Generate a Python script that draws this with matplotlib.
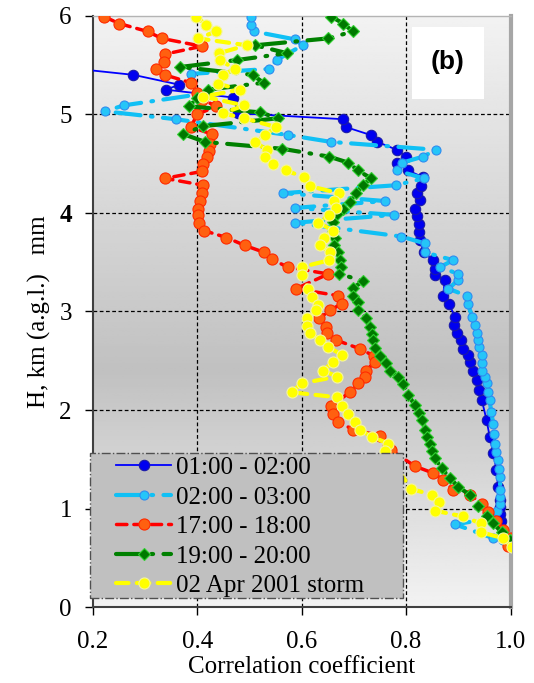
import numpy as np
import matplotlib
matplotlib.use("Agg")
import matplotlib.pyplot as plt
from matplotlib.patches import Rectangle

# 01:00 - 02:00
blue_x = [0.982, 0.980, 0.980, 0.980, 0.976, 0.973, 0.967, 0.960, 0.954, 0.945, 0.940, 0.935, 0.928,
          0.922, 0.919, 0.909, 0.906, 0.897, 0.892, 0.893, 0.883, 0.871, 0.874, 0.855, 0.855, 0.851,
          0.834, 0.826, 0.825, 0.824, 0.821, 0.818, 0.826, 0.820, 0.828, 0.833, 0.804, 0.783, 0.800,
          0.782, 0.745, 0.732, 0.685, 0.680, 0.479, 0.469, 0.340, 0.366, 0.278, 0.100]
blue_y = [0.87, 0.95, 1.02, 1.09, 1.22, 1.39, 1.56, 1.73, 1.90, 2.10, 2.20, 2.30, 2.40,
          2.49, 2.56, 2.62, 2.71, 2.78, 2.86, 2.94, 3.08, 3.16, 3.32, 3.37, 3.43, 3.52,
          3.60, 3.72, 3.81, 3.89, 3.97, 4.04, 4.13, 4.20, 4.27, 4.36, 4.43, 4.51, 4.57,
          4.64, 4.72, 4.79, 4.87, 4.95, 5.01, 5.17, 5.25, 5.30, 5.40, 5.50]

# 02:00 - 03:00
lblue_x = [0.995, 0.985, 0.967, 0.894, 0.960, 0.975, 0.980, 0.980, 0.980, 0.980, 0.978, 0.976,
           0.973, 0.970, 0.968, 0.967, 0.963, 0.960, 0.957, 0.954, 0.951, 0.946, 0.946, 0.945,
           0.940, 0.937, 0.935, 0.932, 0.927, 0.918, 0.916, 0.881, 0.900, 0.900, 0.865, 0.890,
           0.836, 0.836, 0.791, 0.587, 0.777, 0.587, 0.760, 0.565, 0.780, 0.834, 0.782, 0.793,
           0.832, 0.858, 0.656, 0.574, 0.359, 0.224, 0.259, 0.400, 0.388, 0.537, 0.552, 0.602,
           0.587, 0.509, 0.504, 0.504]
lblue_y = [0.62, 0.68, 0.70, 0.84, 0.90, 0.98, 1.05, 1.12, 1.19, 1.32, 1.40, 1.49,
           1.57, 1.66, 1.76, 1.86, 1.98, 2.10, 2.18, 2.27, 2.33, 2.40, 2.48, 2.56,
           2.64, 2.71, 2.78, 2.86, 2.94, 3.08, 3.16, 3.23, 3.32, 3.38, 3.45, 3.52,
           3.60, 3.69, 3.76, 3.90, 3.98, 4.05, 4.12, 4.20, 4.28, 4.35, 4.43, 4.51,
           4.57, 4.64, 4.72, 4.79, 4.95, 5.03, 5.09, 5.20, 5.41, 5.46, 5.55, 5.70,
           5.76, 5.84, 5.91, 5.99]

# 17:00 - 18:00
red_x = [0.222, 0.251, 0.305, 0.332, 0.409, 0.338, 0.336, 0.321, 0.338, 0.388, 0.400, 0.410,
         0.437, 0.400, 0.388, 0.428, 0.425, 0.423, 0.418, 0.412, 0.409, 0.338, 0.412, 0.410,
         0.405, 0.402, 0.402, 0.404, 0.413, 0.456, 0.491, 0.528, 0.543, 0.573, 0.651, 0.589,
         0.670, 0.677, 0.654, 0.634, 0.647, 0.648, 0.666, 0.712, 0.738, 0.740, 0.724, 0.721,
         0.708, 0.692, 0.657, 0.661, 0.670, 0.699, 0.750, 0.766, 0.772, 0.817, 0.852, 0.871,
         0.890, 0.922, 0.945, 0.957, 0.973, 0.986, 1.000, 0.995]
red_y = [5.99, 5.92, 5.84, 5.77, 5.69, 5.61, 5.53, 5.46, 5.40, 5.32, 5.22, 5.15,
         5.08, 5.00, 4.87, 4.80, 4.70, 4.63, 4.57, 4.50, 4.42, 4.35, 4.28, 4.20,
         4.12, 4.04, 3.98, 3.90, 3.82, 3.75, 3.67, 3.60, 3.53, 3.45, 3.38, 3.23,
         3.16, 3.08, 3.01, 2.93, 2.84, 2.78, 2.71, 2.62, 2.55, 2.49, 2.40, 2.34,
         2.27, 2.18, 2.04, 1.96, 1.88, 1.80, 1.74, 1.64, 1.59, 1.43, 1.36, 1.29,
         1.19, 1.14, 1.05, 0.97, 0.87, 0.78, 0.70, 0.62]

# 19:00 - 20:00
green_x = [0.657, 0.680, 0.698, 0.651, 0.511, 0.572, 0.476, 0.368, 0.506, 0.527, 0.421, 0.400,
           0.385, 0.520, 0.555, 0.412, 0.373, 0.415, 0.563, 0.653, 0.689, 0.708, 0.733, 0.717,
           0.705, 0.692, 0.680, 0.668, 0.661, 0.661, 0.664, 0.662, 0.670, 0.673, 0.675, 0.672,
           0.718, 0.699, 0.699, 0.707, 0.708, 0.724, 0.731, 0.735, 0.736, 0.740, 0.750, 0.761,
           0.769, 0.785, 0.794, 0.804, 0.817, 0.825, 0.830, 0.836, 0.840, 0.846, 0.850, 0.855,
           0.868, 0.884, 0.900, 0.922, 0.938, 0.954, 0.967, 0.983, 0.999]
green_y = [5.99, 5.92, 5.84, 5.77, 5.70, 5.62, 5.55, 5.48, 5.40, 5.32, 5.25, 5.17,
           5.08, 5.02, 4.96, 4.88, 4.80, 4.72, 4.65, 4.57, 4.51, 4.43, 4.35, 4.28,
           4.20, 4.11, 4.04, 3.99, 3.91, 3.82, 3.74, 3.67, 3.60, 3.52, 3.45, 3.38,
           3.31, 3.24, 3.16, 3.10, 3.01, 2.93, 2.84, 2.77, 2.71, 2.63, 2.55, 2.48,
           2.40, 2.34, 2.26, 2.15, 2.05, 1.97, 1.90, 1.80, 1.73, 1.66, 1.58, 1.51,
           1.41, 1.31, 1.22, 1.14, 1.03, 0.93, 0.85, 0.76, 0.68]

# 02 Apr 2001 storm
yellow_x = [0.398, 0.417, 0.436, 0.402, 0.495, 0.442, 0.444, 0.472, 0.450, 0.440, 0.482, 0.412,
            0.490, 0.449, 0.490, 0.551, 0.530, 0.511, 0.533, 0.530, 0.545, 0.571, 0.604, 0.616,
            0.672, 0.662, 0.666, 0.653, 0.632, 0.661, 0.643, 0.636, 0.654, 0.653, 0.600, 0.600,
            0.613, 0.619, 0.632, 0.627, 0.610, 0.611, 0.616, 0.636, 0.651, 0.677, 0.661, 0.641,
            0.668, 0.600, 0.581, 0.667, 0.677, 0.689, 0.702, 0.712, 0.734, 0.766, 0.759, 0.810,
            0.849, 0.863, 0.855, 0.909, 0.943, 0.943, 0.986, 1.002]
yellow_y = [5.99, 5.91, 5.84, 5.77, 5.70, 5.62, 5.55, 5.46, 5.40, 5.31, 5.25, 5.18,
            5.09, 5.01, 4.96, 4.87, 4.79, 4.72, 4.64, 4.57, 4.50, 4.43, 4.36, 4.27,
            4.20, 4.12, 4.05, 3.98, 3.90, 3.82, 3.75, 3.67, 3.60, 3.52, 3.45, 3.37,
            3.23, 3.15, 3.07, 3.01, 2.93, 2.85, 2.78, 2.71, 2.64, 2.56, 2.49, 2.40,
            2.34, 2.27, 2.18, 2.13, 2.04, 1.96, 1.88, 1.80, 1.73, 1.66, 1.58, 1.20,
            1.14, 1.07, 0.98, 0.92, 0.85, 0.76, 0.70, 0.61]

labels = ["01:00 - 02:00", "02:00 - 03:00", "17:00 - 18:00", "19:00 - 20:00", "02 Apr 2001 storm"]
x_ticks = [0.2, 0.4, 0.6, 0.8, 1.0]
y_ticks = [0, 1, 2, 3, 4, 5, 6]

serif = "Liberation Serif"
fs = 18

fig = plt.figure(figsize=(5.34, 6.83), dpi=100)
ax = fig.add_axes([0.1736, 0.111, 0.7825, 0.866])

# background gradient (light - darker - light)
hh = np.linspace(0, 6, 300)
shade = np.interp(hh, [0, 2.4, 6], [0.95, 0.755, 0.95])
ax.imshow(shade[:, None], cmap="gray", vmin=0, vmax=1, extent=[0.2, 1.0, 0, 6],
          aspect="auto", origin="lower", zorder=0)

ax.set_xlim(0.2, 1.0)
ax.set_ylim(0, 6)

for gx in [0.4, 0.6, 0.8]:
    ax.axvline(gx, color="black", lw=0.9, ls=(0, (3, 2)), zorder=1)
for gy in [1, 2, 3, 4, 5]:
    ax.axhline(gy, color="black", lw=0.9, ls=(0, (3, 2)), zorder=1)

l1, = ax.plot(blue_x, blue_y, color="#0000ff", lw=1.3, marker="o", ms=7.5,
              mfc="#0000f0", mec="#1a1aa8", mew=0.8, zorder=3)
l2, = ax.plot(lblue_x, lblue_y, color="#10c0f5", lw=3, ls=(0, (6, 2.5, 0.4, 2.5)),
              dash_capstyle="round", marker="o", ms=6.5, mfc="#25c5f8", mec="#2f8cf0",
              mew=0.8, zorder=4)
l3, = ax.plot(red_x, red_y, color="#ff0000", lw=2.5, ls=(0, (3, 2)), dash_capstyle="round",
              marker="o", ms=8, mfc="#ff6010", mec="#ff2a00", mew=0.8, zorder=5)
l4, = ax.plot(green_x, green_y, color="#008000", lw=3, ls=(0, (6, 2.5, 0.4, 2.5)),
              dash_capstyle="round", marker="D", ms=6.5, mfc="#007800", mec="#30d030",
              mew=0.8, zorder=6)
l5, = ax.plot(yellow_x, yellow_y, color="#ffff00", lw=3, ls=(0, (3, 2)), dash_capstyle="round",
              marker="o", ms=8, mfc="#ffff00", mec="#f4f4a0", mew=0.8, zorder=7)

ax.set_xticks(x_ticks)
ax.set_xticklabels([f"{v:.1f}" for v in x_ticks])
ax.set_yticks(y_ticks)
ax.set_yticklabels([str(v) for v in y_ticks])
ax.tick_params(axis="x", direction="out", length=6, width=1, pad=11, labelsize=fs)
ax.tick_params(axis="y", direction="out", length=6, width=1, pad=9, labelsize=fs)
for t in ax.get_xticklabels() + ax.get_yticklabels():
    t.set_family(serif)
ax.get_yticklabels()[4].set_fontweight("bold")

ax.set_xlabel("Correlation coefficient", family=serif, fontsize=fs, labelpad=2)
ax.set_ylabel("H, km (a.g.l.)   mm", family=serif, fontsize=fs, labelpad=6)

ax.spines["left"].set_color("#404040")
ax.spines["left"].set_linewidth(1.5)
ax.spines["bottom"].set_color("#404040")
ax.spines["bottom"].set_linewidth(1.5)
ax.spines["right"].set_color("#a6a6a6")
ax.spines["right"].set_linewidth(3)
ax.spines["top"].set_color("#b4b4b4")
ax.spines["top"].set_linewidth(1)

ax.add_patch(Rectangle((0.763, 0.859), 0.173, 0.122, transform=ax.transAxes,
                       facecolor="white", edgecolor="none", zorder=8))
ax.text(0.850, 0.921, "(b)", transform=ax.transAxes, ha="center", va="center",
        family="Liberation Sans", fontweight="bold", fontsize=19, zorder=9)

# legend box drawn separately so it keeps the wide Excel-like frame
ax.add_patch(Rectangle((-0.006, 0.015), 0.748, 0.245, transform=ax.transAxes,
                       facecolor="#c0c0c0", edgecolor="#505050", lw=1, ls="-.",
                       clip_on=False, zorder=9))
leg = ax.legend([l1, l2, l3, l4, l5], labels, loc="upper left",
                bbox_to_anchor=(0.056, 0.2545), borderaxespad=0, borderpad=0,
                prop={"family": serif, "size": fs}, numpoints=1,
                handlelength=2.2, handletextpad=0.2, labelspacing=0.28, frameon=False)
leg.set_zorder(10)

fig.savefig("out.png", dpi=100)
